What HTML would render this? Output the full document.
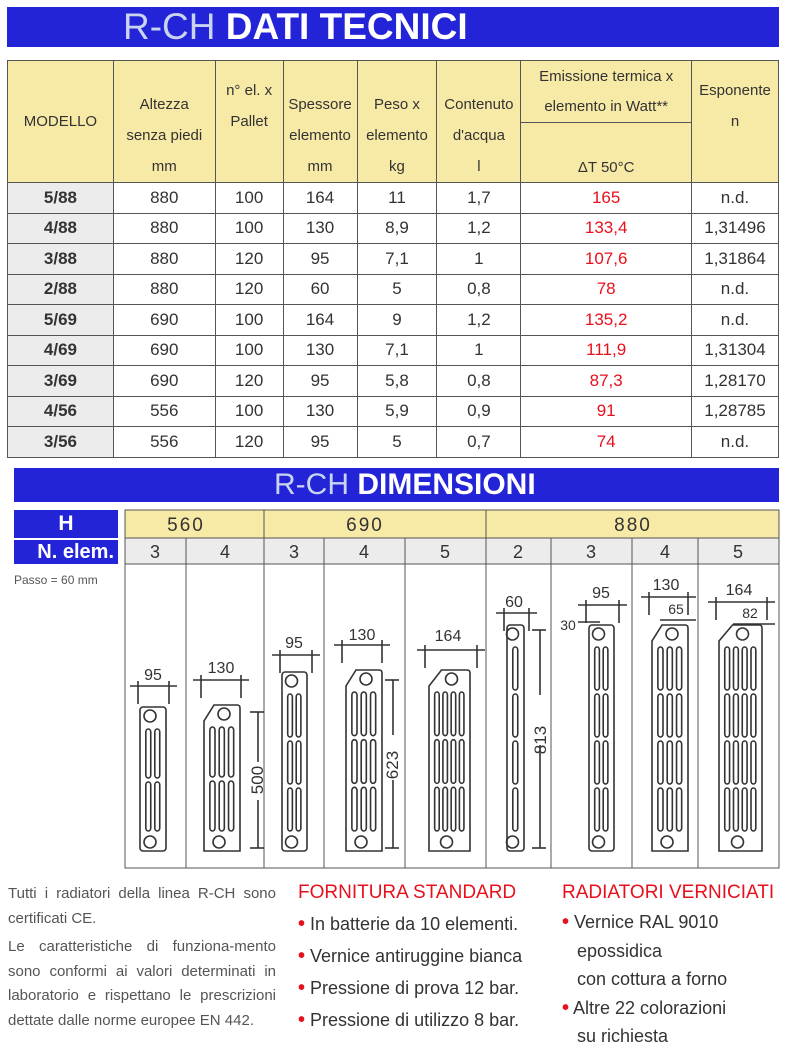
<!DOCTYPE html>
<html><head><meta charset="utf-8">
<style>
*{margin:0;padding:0;box-sizing:border-box}
body{width:787px;height:1061px;background:#fff;position:relative;overflow:hidden;font-family:"Liberation Sans Narrow","Liberation Sans",sans-serif;color:#333}
.bar{position:absolute;background:#2323d8;color:#fff;font-weight:bold;white-space:nowrap}
.bar span{color:#c8d4f0;font-weight:normal}
table{position:absolute;border-collapse:collapse}
#t1{left:7px;top:60px;width:772px}
#t1 td{border:1px solid #555;text-align:center;font-size:17px;height:30.5px;color:#333}
#t1 tr.h td{background:#f7e9a6;font-size:15px;line-height:31px;vertical-align:bottom;padding-bottom:0}
#t1 td.m{background:#ececec;font-weight:bold}
#t1 td.r{color:#e8101c}
.a{position:absolute}
.txt{position:absolute;font-size:15px;line-height:24.5px;color:#555}
.red{color:#e8101c;font-size:19px}
.li{font-size:18px;line-height:32px;color:#333}
.li b{color:#e8101c;font-size:20px}
</style></head><body>
<div class="bar" style="left:7px;top:7px;width:772px;height:40px;font-size:37px;line-height:40px;padding-left:116px"><span>R-CH</span> DATI TECNICI</div>

<table id="t1">
<tr class="h">
<td rowspan="2" style="width:106px;height:122px;vertical-align:middle">MODELLO</td>
<td rowspan="2" style="width:102px">Altezza<br>senza piedi<br>mm</td>
<td rowspan="2" style="width:68px;vertical-align:middle">n° el. x<br>Pallet<br>&nbsp;</td>
<td rowspan="2" style="width:74px">Spessore<br>elemento<br>mm</td>
<td rowspan="2" style="width:80px">Peso x<br>elemento<br>kg</td>
<td rowspan="2" style="width:84px">Contenuto<br>d'acqua<br>l</td>
<td style="width:171px;height:62px;line-height:30px">Emissione termica x<br>elemento in Watt**</td>
<td rowspan="2" style="width:87px;vertical-align:middle">Esponente<br>n<br>&nbsp;</td></tr>
<tr class="h"><td style="height:60px;vertical-align:bottom;line-height:28px">ΔT 50°C</td></tr>
<tr><td class="m">5/88</td><td>880</td><td>100</td><td>164</td><td>11</td><td>1,7</td><td class="r">165</td><td>n.d.</td></tr>
<tr><td class="m">4/88</td><td>880</td><td>100</td><td>130</td><td>8,9</td><td>1,2</td><td class="r">133,4</td><td>1,31496</td></tr>
<tr><td class="m">3/88</td><td>880</td><td>120</td><td>95</td><td>7,1</td><td>1</td><td class="r">107,6</td><td>1,31864</td></tr>
<tr><td class="m">2/88</td><td>880</td><td>120</td><td>60</td><td>5</td><td>0,8</td><td class="r">78</td><td>n.d.</td></tr>
<tr><td class="m">5/69</td><td>690</td><td>100</td><td>164</td><td>9</td><td>1,2</td><td class="r">135,2</td><td>n.d.</td></tr>
<tr><td class="m">4/69</td><td>690</td><td>100</td><td>130</td><td>7,1</td><td>1</td><td class="r">111,9</td><td>1,31304</td></tr>
<tr><td class="m">3/69</td><td>690</td><td>120</td><td>95</td><td>5,8</td><td>0,8</td><td class="r">87,3</td><td>1,28170</td></tr>
<tr><td class="m">4/56</td><td>556</td><td>100</td><td>130</td><td>5,9</td><td>0,9</td><td class="r">91</td><td>1,28785</td></tr>
<tr><td class="m">3/56</td><td>556</td><td>120</td><td>95</td><td>5</td><td>0,7</td><td class="r">74</td><td>n.d.</td></tr>
</table>

<div class="bar" style="left:14px;top:468px;width:765px;height:34px;font-size:30px;line-height:34px;padding-left:260px"><span>R-CH</span> DIMENSIONI</div>
<div class="bar" style="left:14px;top:510px;width:104px;height:28px;font-size:21px;line-height:28px;text-align:center">H</div>
<div class="bar" style="left:14px;top:540px;width:104px;height:24px;font-size:20px;line-height:24px;text-align:right;padding-right:4px">N. elem.</div>
<div class="a" style="left:14px;top:573px;font-size:12px;color:#555">Passo = 60 mm</div>

<svg class="a" style="left:0;top:0" width="787" height="1061" id="sv">
<g font-family="Liberation Sans, sans-serif" fill="#333">
<rect x="125" y="510" width="654" height="28" fill="#f7e9a6"/>
<rect x="125" y="538" width="654" height="26" fill="#ececec"/>
<rect x="125" y="510" width="654" height="358" fill="none" stroke="#555"/>
<line x1="125" y1="538" x2="779" y2="538" stroke="#555"/>
<line x1="125" y1="564" x2="779" y2="564" stroke="#555"/>
<g stroke="#555">
<line x1="186" y1="538" x2="186" y2="868"/><line x1="264" y1="510" x2="264" y2="868"/>
<line x1="324" y1="538" x2="324" y2="868"/><line x1="405" y1="538" x2="405" y2="868"/>
<line x1="486" y1="510" x2="486" y2="868"/><line x1="551" y1="538" x2="551" y2="868"/>
<line x1="632" y1="538" x2="632" y2="868"/><line x1="698" y1="538" x2="698" y2="868"/>
</g>
<g font-size="19" text-anchor="middle" letter-spacing="2">
<text x="186" y="531">560</text><text x="365" y="531">690</text><text x="633" y="531">880</text>
</g>
<g font-size="18" text-anchor="middle">
<text x="155" y="558">3</text><text x="225" y="558">4</text><text x="294" y="558">3</text><text x="364" y="558">4</text><text x="445" y="558">5</text><text x="518" y="558">2</text><text x="591" y="558">3</text><text x="665" y="558">4</text><text x="738" y="558">5</text>
</g>
<g id="rads" fill="none" stroke="#333" stroke-width="1.6"></g>
<g font-size="16" text-anchor="middle">
<text x="153" y="680">95</text><text x="221" y="673">130</text><text x="294" y="648">95</text><text x="362" y="640">130</text><text x="448" y="641">164</text><text x="514" y="607">60</text><text x="601" y="598">95</text><text x="666" y="590">130</text><text x="739" y="595">164</text>
<text x="676" y="614" font-size="14">65</text><text x="750" y="618" font-size="14">82</text><text x="568" y="630" font-size="14">30</text>
<text transform="translate(263,780) rotate(-90)" font-size="17">500</text>
<text transform="translate(398,765) rotate(-90)" font-size="17">623</text>
<text transform="translate(546,740) rotate(-90)" font-size="17">813</text>
</g>
</g>
</svg>

<div class="txt" style="left:8px;top:882px;width:268px;text-align:justify">Tutti i radiatori della linea R-CH sono certificati CE.</div>
<div class="txt" style="left:8px;top:935px;width:268px;text-align:justify;text-align-last:left">Le caratteristiche di funziona-mento sono conformi ai valori determinati in laboratorio e rispettano le prescrizioni dettate dalle norme europee EN 442.</div>

<div class="a red" style="left:298px;top:882px">FORNITURA STANDARD</div>
<div class="a li" style="left:298px;top:908px"><b>•</b> In batterie da 10 elementi.<br><b>•</b> Vernice antiruggine bianca<br><b>•</b> Pressione di prova 12 bar.<br><b>•</b> Pressione di utilizzo 8 bar.</div>
<div class="a red" style="left:562px;top:882px">RADIATORI VERNICIATI</div>
<div class="a li" style="left:562px;top:908px;line-height:28.5px"><b>•</b> Vernice RAL 9010<br>&nbsp;&nbsp;&nbsp;epossidica<br>&nbsp;&nbsp;&nbsp;con cottura a forno<br><b>•</b> Altre 22 colorazioni<br>&nbsp;&nbsp;&nbsp;su richiesta</div>

<script>
var g=document.getElementById('rads'),s='';
function L(x1,y1,x2,y2){s+='<line x1="'+x1+'" y1="'+y1+'" x2="'+x2+'" y2="'+y2+'"/>';}
function rad(x,w,top,cols,segs,ch){
 var b=851;
 if(ch) s+='<path d="M'+(x+w/2-8)+' '+top+' L'+(x+w-3)+' '+top+' Q'+(x+w)+' '+top+' '+(x+w)+' '+(top+3)+' L'+(x+w)+' '+b+' L'+x+' '+b+' L'+x+' '+(top+16)+' Z"/>';
 else s+='<rect x="'+x+'" y="'+top+'" width="'+w+'" height="'+(b-top)+'" rx="3"/>';
 var cx=ch?x+w/2+2:x+w/2-3;
 s+='<circle cx="'+cx+'" cy="'+(top+9)+'" r="6"/><circle cx="'+(x+w/2-3)+'" cy="'+(b-9)+'" r="6"/>';
 var y0=top+20,y1=b-18,h=(y1-y0)/segs;
 var sw=(w-8)/cols;
 for(var c=0;c<cols;c++)for(var k=0;k<segs;k++){
  s+='<rect x="'+(x+4+c*sw+sw*0.2)+'" y="'+(y0+k*h+2)+'" width="'+(sw*0.55)+'" height="'+(h-4)+'" rx="3"/>';}
}
rad(140,26,707,2,2,0);rad(204,36,705,3,2,1);
rad(282,25,672,2,3,0);rad(346,36,670,3,3,1);rad(429,41,670,4,3,1);
rad(507,17,625,1,4,0);rad(589,25,625,2,4,0);rad(652,36,625,3,4,1);rad(719,43,625,4,4,1);
function dim(x1,x2,y){L(x1,y,x2,y);L(x1+8,y-5,x1+8,y+18);L(x2-8,y-5,x2-8,y+18);}
dim(130,177,686);dim(193,249,680);dim(272,320,655);dim(334,390,645);dim(417,485,650);dim(496,537,613);dim(578,627,605);dim(641,696,597);dim(708,775,602);
L(660,620,696,620);L(733,624,775,624);L(578,622,600,622);
L(258,712,258,762);L(258,800,258,848);L(250,712,264,712);L(250,848,264,848);
L(393,680,393,735);L(393,780,393,848);L(385,680,399,680);L(385,848,399,848);
L(540,630,540,695);L(540,745,540,848);L(532,630,546,630);L(532,848,546,848);
g.innerHTML=s;
</script>
</body></html>
